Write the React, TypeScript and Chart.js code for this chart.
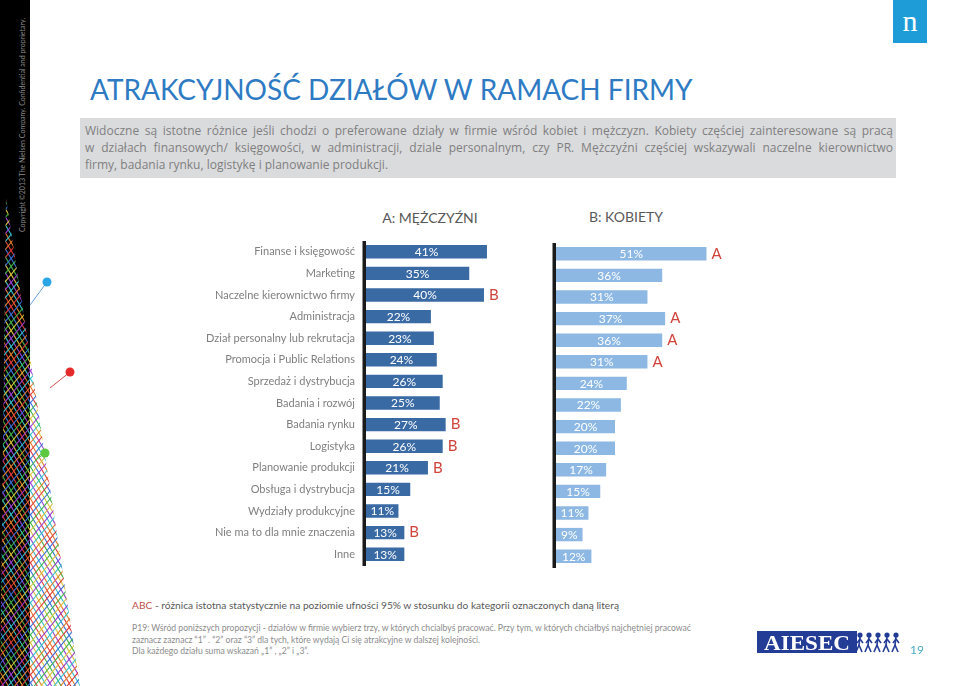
import React, { useEffect, useRef } from 'react';
import { Chart, registerables } from 'chart.js';
Chart.register(...registerables);

const categories = [
  'Finanse i księgowość',
  'Marketing',
  'Naczelne kierownictwo firmy',
  'Administracja',
  'Dział personalny lub rekrutacja',
  'Promocja i Public Relations',
  'Sprzedaż i dystrybucja',
  'Badania i rozwój',
  'Badania rynku',
  'Logistyka',
  'Planowanie produkcji',
  'Obsługa i dystrybucja',
  'Wydziały produkcyjne',
  'Nie ma to dla mnie znaczenia',
  'Inne',
];
const menValues = [41, 35, 40, 22, 23, 24, 26, 25, 27, 26, 21, 15, 11, 13, 13];
const womenValues = [51, 36, 31, 37, 36, 31, 24, 22, 20, 20, 17, 15, 11, 9, 12];
const menSignificance = ['', '', 'B', '', '', '', '', '', 'B', 'B', 'B', '', '', 'B', ''];
const womenSignificance = ['A', '', '', 'A', 'A', 'A', '', '', '', '', '', '', '', '', ''];

const MEN_COLOR = '#3A6AA4';
const WOMEN_COLOR = '#8DB8E4';
const SIG_COLOR = '#D0433B';
const AXIS_MAX = 60;

function makeLabelPlugin(values: number[], sig: string[]) {
  return {
    id: 'barLabels',
    afterDatasetsDraw(chart: any) {
      const { ctx, chartArea } = chart;
      const meta = chart.getDatasetMeta(0);
      ctx.save();
      meta.data.forEach((bar: any, i: number) => {
        const { x, y, base } = bar.getProps(['x', 'y', 'base'], true);
        ctx.fillStyle = '#ffffff';
        ctx.font = '12px Lato';
        ctx.textAlign = 'center';
        ctx.textBaseline = 'middle';
        ctx.fillText(values[i] + '%', (x + base) / 2, y + 0.5);
        if (sig[i]) {
          ctx.fillStyle = SIG_COLOR;
          ctx.font = '15px Lato';
          ctx.textAlign = 'left';
          ctx.fillText(sig[i], x + 5, y);
        }
      });
      ctx.fillStyle = '#1a1a1a';
      ctx.fillRect(chartArea.left - 3.5, chartArea.top, 3.5, chartArea.bottom - chartArea.top + 1);
      ctx.restore();
    },
  };
}

function BarChart(props: {
  values: number[];
  sig: string[];
  color: string;
  showLabels: boolean;
  left: number;
  top: number;
  width: number;
  height: number;
  padding: { left: number; right: number; top: number; bottom: number };
  labelWidth: number;
}) {
  const ref = useRef<HTMLCanvasElement>(null);
  useEffect(() => {
    const chart = new Chart(ref.current as HTMLCanvasElement, {
      type: 'bar',
      data: {
        labels: categories,
        datasets: [
          {
            data: props.values,
            backgroundColor: props.color,
            borderWidth: 0,
            barPercentage: 0.62,
            categoryPercentage: 1,
          },
        ],
      },
      options: {
        indexAxis: 'y',
        responsive: false,
        animation: false,
        layout: { padding: props.padding },
        plugins: { legend: { display: false }, tooltip: { enabled: false } },
        scales: {
          x: { display: false, min: 0, max: AXIS_MAX },
          y: {
            display: props.showLabels,
            border: { display: false },
            grid: { display: false, drawTicks: false, tickLength: 0 },
            ticks: {
              padding: 11,
              color: '#7F7F7F',
              font: { family: 'Lato', size: 11 },
            },
            afterFit: (scale: any) => {
              scale.width = props.labelWidth;
              scale.paddingTop = 0;
              scale.paddingBottom = 0;
            },
          },
        },
      },
      plugins: [makeLabelPlugin(props.values, props.sig)],
    } as any);
    return () => chart.destroy();
  }, []);
  return (
    <canvas
      ref={ref}
      width={props.width}
      height={props.height}
      style={{ position: 'absolute', left: props.left, top: props.top, width: props.width, height: props.height }}
    />
  );
}

function T(props: {
  x: number;
  y: number;
  size: number;
  color: string;
  children: any;
  align?: 'left' | 'center' | 'right';
  family?: string;
  weight?: number;
  style?: any;
}) {
  const align = props.align || 'left';
  const tx = align === 'center' ? '-50%' : align === 'right' ? '-100%' : '0';
  return (
    <div
      style={{
        position: 'absolute',
        left: props.x,
        top: props.y,
        transform: `translate(${tx}, -50%)`,
        fontSize: props.size,
        color: props.color,
        fontFamily: props.family || 'Lato',
        fontWeight: props.weight || 400,
        lineHeight: 1.2,
        whiteSpace: 'nowrap',
        ...(props.style || {}),
      }}
    >
      {props.children}
    </div>
  );
}

function Mesh() {
  const colors = ['#e03a3a', '#3a6fd8', '#3fb34a', '#d8c23a', '#9a3fd0', '#35c0c8', '#e07a2a'];
  const lines: any[] = [];
  let k = 0;
  for (let y = 120; y < 760; y += 8) {
    lines.push(<line key={'a' + k} x1={0} y1={y} x2={90} y2={y + 150} stroke={colors[k % colors.length]} strokeWidth={1.1} />);
    k++;
  }
  for (let y = 200; y < 900; y += 8) {
    lines.push(<line key={'b' + k} x1={0} y1={y} x2={90} y2={y - 110} stroke={colors[(k + 3) % colors.length]} strokeWidth={1.1} />);
    k++;
  }
  return (
    <svg width={100} height={686} style={{ position: 'absolute', left: 0, top: 0 }}>
      <rect x={0} y={0} width={30} height={686} fill="#000" />
      <defs>
        <clipPath id="tri">
          <polygon points="6,198 0,686 80,686" />
        </clipPath>
      </defs>
      <g clipPath="url(#tri)">{lines}</g>
      <line x1={47} y1={282} x2={30} y2={305} stroke="#6aa0d8" strokeWidth={1} />
      <circle cx={47} cy={282} r={4.5} fill="#2aa6e6" />
      <line x1={70} y1={372} x2={50} y2={388} stroke="#d05050" strokeWidth={1} />
      <circle cx={70} cy={372} r={4.5} fill="#e42a2a" />
      <line x1={45} y1={453} x2={36} y2={460} stroke="#60c060" strokeWidth={1} />
      <circle cx={45} cy={453} r={4.5} fill="#5cc840" />
    </svg>
  );
}

function Aiesec() {
  const figs: any[] = [];
  for (let i = 0; i < 5; i++) {
    const x = 858 + i * 9;
    figs.push(
      <g key={i} stroke="#233C96" strokeWidth={1.6} fill="#233C96">
        <circle cx={x + 2} cy={635} r={1.8} />
        <line x1={x + 2} y1={637} x2={x + 1} y2={645} />
        <line x1={x + 1} y1={645} x2={x - 2} y2={652} />
        <line x1={x + 1} y1={645} x2={x + 4} y2={652} />
        <line x1={x + 2} y1={639} x2={x - 1} y2={643} />
        <line x1={x + 2} y1={639} x2={x + 5} y2={643} />
      </g>
    );
  }
  return (
    <svg width={960} height={686} style={{ position: 'absolute', left: 0, top: 0, pointerEvents: 'none' }}>
      <rect x={757} y={631} width={100} height={22} fill="#233C96" />
      <text
        x={764}
        y={650}
        fill="#fff"
        fontFamily="Liberation Serif"
        fontWeight={700}
        fontSize={21}
        textLength={86}
        lengthAdjust="spacingAndGlyphs"
      >
        AIESEC
      </text>
      {figs}
    </svg>
  );
}

export default function App() {
  const boxText = { fontFamily: 'Open Sans', fontSize: 12, color: '#7F7F7F', lineHeight: '17px', height: 17, whiteSpace: 'nowrap' as const };
  return (
    <div style={{ position: 'absolute', left: 0, top: 0, width: 960, height: 686, background: '#fff', overflow: 'hidden' }}>
      <Mesh />
      <div
        style={{
          position: 'absolute',
          left: 22,
          top: 125,
          transform: 'translate(-50%, -50%) rotate(-90deg)',
          fontFamily: 'Lato',
          fontSize: 7,
          color: '#8a8a8a',
          whiteSpace: 'nowrap',
          lineHeight: 1,
        }}
      >
        Copyright ©2013 The Nielsen Company. Confidential and proprietary.
      </div>

      <div style={{ position: 'absolute', left: 893, top: 0, width: 34, height: 43, background: '#1E9CD7' }}>
        <div style={{ position: 'absolute', left: 0, width: 34, top: 6, textAlign: 'center', color: '#fff', fontFamily: 'Liberation Serif', fontSize: 30, lineHeight: '30px' }}>
          n
        </div>
      </div>

      <T x={90} y={90} size={28} color="#2E7BC4">
        ATRAKCYJNOŚĆ DZIAŁÓW W RAMACH FIRMY
      </T>

      <div style={{ position: 'absolute', left: 80, top: 118, width: 816, height: 60, background: '#DADBDD' }} />
      <div style={{ position: 'absolute', left: 85, top: 122, width: 808 }}>
        <div style={{ ...boxText, textAlign: 'justify', textAlignLast: 'justify' as any, whiteSpace: 'normal' }}>
          Widoczne są istotne różnice jeśli chodzi o preferowane działy w firmie wśród kobiet i mężczyzn. Kobiety częściej zainteresowane są pracą
        </div>
        <div style={{ ...boxText, textAlign: 'justify', textAlignLast: 'justify' as any, whiteSpace: 'normal' }}>
          w działach finansowych/ księgowości, w administracji, dziale personalnym, czy PR. Mężczyźni częściej wskazywali naczelne kierownictwo
        </div>
        <div style={boxText}>firmy, badania rynku, logistykę i planowanie produkcji.</div>
      </div>

      <T x={430} y={218} size={14} color="#595959" align="center">
        A: MĘŻCZYŹNI
      </T>
      <T x={626} y={217} size={14} color="#595959" align="center">
        B: KOBIETY
      </T>

      <BarChart
        values={menValues}
        sig={menSignificance}
        color={MEN_COLOR}
        showLabels={true}
        left={190}
        top={236}
        width={356}
        height={336}
        padding={{ left: 0, right: 3, top: 5, bottom: 7 }}
        labelWidth={176}
      />
      <BarChart
        values={womenValues}
        sig={womenSignificance}
        color={WOMEN_COLOR}
        showLabels={false}
        left={546}
        top={238}
        width={200}
        height={336}
        padding={{ left: 10, right: 13, top: 5, bottom: 7 }}
        labelWidth={0}
      />

      <T x={132} y={605} size={10.2} color="#595959">
        <span style={{ color: '#C0504D' }}>ABC</span> - różnica istotna statystycznie na poziomie ufności 95% w stosunku do kategorii oznaczonych daną literą
      </T>
      <T x={132} y={628} size={8.6} color="#8C8C8C">
        P19: Wśród poniższych propozycji - działów w firmie wybierz trzy, w których chcialbyś pracować. Przy tym, w których chciałbyś najchętniej pracować
      </T>
      <T x={132} y={640} size={8.6} color="#8C8C8C">
        zaznacz  zaznacz “1” . “2” oraz “3” dla tych, które wydają Ci się atrakcyjne w dalszej kolejności.
      </T>
      <T x={132} y={651} size={8.6} color="#8C8C8C">
        Dla każdego działu suma wskazań „1” , „2” i „3”.
      </T>

      <Aiesec />
      <T x={910} y={650} size={12} color="#4BACC6">
        19
      </T>
    </div>
  );
}
